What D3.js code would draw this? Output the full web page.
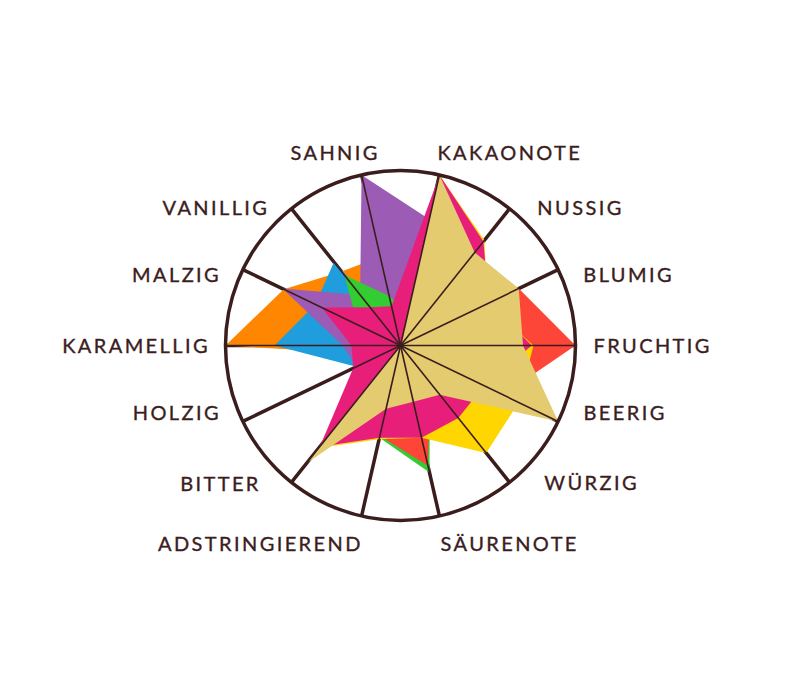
<!DOCTYPE html>
<html>
<head>
<meta charset="utf-8">
<script src="https://cdn.jsdelivr.net/npm/d3@7"></script>
<style>
  body { margin: 0; background: #fff; }
  svg { display: block; }
</style>
</head>
<body>
<div id="chart"></div>
<script>
// axes, clockwise starting just right of 12 o'clock
const axes = ['KAKAONOTE', 'NUSSIG', 'BLUMIG', 'FRUCHTIG', 'BEERIG', 'WÜRZIG', 'SÄURENOTE',
              'ADSTRINGIEREND', 'BITTER', 'HOLZIG', 'KARAMELLIG', 'MALZIG', 'VANILLIG', 'SAHNIG'];

// one profile per colour, values 0..10 in axis order
const orange = [3, 2, 2, 2, 2, 2, 2, 2, 2, 1.25, 10, 7.4, 5.4, 5.2];
const blue   = [2, 2, 2, 2, 2, 2, 2, 2, 2, 2.8, 7.2, 5.4, 6.1, 1.0];
const purple = [7.4, 4, 2, 2, 2, 2, 2, 2, 2, 2.8, 3.3, 7.5, 3.7, 10];
const green  = [2, 2, 2, 2, 2, 2.7, 7.45, 5.4, 2, 2, 2, 2.7, 5.15, 2.9];
const red    = [5, 5, 7.5, 10, 6.5, 2.7, 7.05, 5.3, 3, 2, 2, 2, 2, 2];
const yellow = [10, 7.7, 5.5, 7.6, 7.5, 7.85, 5.4, 5.5, 7.5, 2, 2, 2, 2, 2];
const pink   = [10, 7.6, 5.6, 7.5, 5.3, 5.3, 5.4, 5.4, 7.4, 3.0, 2.8, 5.0, 2.8, 2.3];
const khaki  = [10, 6.8, 7.5, 7.0, 10, 3.6, 3.3, 3.7, 8.6, 0, 0, 0, 0, 0];

const maxValue = 10;

// drawing order, bottom to top
const series = [
    { values: orange, color: '#ff8600' },
    { values: blue,   color: '#1f9ddc' },
    { values: purple, color: '#9c5cb5' },
    { values: green,  color: '#33cc33' },
    { values: red,    color: '#fd4538' },
    { values: yellow, color: '#ffd600' },
    { values: pink,   color: '#e81f7a' },
    { values: khaki,  color: '#e4cb6f' }
];

// label placement (angle nudge in degrees, distance from centre) as laid out by hand
const labelNudge  = [-2, 6.3, 4.6, 0, -5.5, -7.7, 1.4, -1.4, 7.3, 5.4, 0, -4.5, -5.5, 6];
const labelRadius = [196, 194, 196, 193, 195, 199, 202, 202, 198, 194, 193, 195, 192, 194];

const width = 800, height = 700;
const cx = 400.5, cy = 345.5, radius = 175;
const ink = '#3b1d1d';
const spacing = 2.4;

const svg = d3.select('#chart')
    .append('svg')
    .attr('width', width)
    .attr('height', height);

const g = svg.append('g').attr('transform', `translate(${cx},${cy})`);

const r = d3.scaleLinear().domain([0, maxValue]).range([0, radius]);
const angle = d3.scaleLinear().domain([0, axes.length]).range([0, 2 * Math.PI]);
const axisAngle = i => angle(i + 0.5);

// thick spokes under the shapes
g.append('g')
    .selectAll('line')
    .data(axes)
    .join('line')
    .attr('x1', 0).attr('y1', 0)
    .attr('x2', (d, i) => r(maxValue) * Math.sin(axisAngle(i)))
    .attr('y2', (d, i) => -r(maxValue) * Math.cos(axisAngle(i)))
    .attr('stroke', ink)
    .attr('stroke-width', 3.5);

// the flavour shapes
const radar = d3.lineRadial()
    .angle((d, i) => axisAngle(i))
    .radius(d => r(d))
    .curve(d3.curveLinearClosed);

g.append('g')
    .selectAll('path')
    .data(series)
    .join('path')
    .attr('d', d => radar(d.values))
    .attr('fill', d => d.color);

// thin spokes on top
g.append('g')
    .selectAll('line')
    .data(axes)
    .join('line')
    .attr('x1', 0).attr('y1', 0)
    .attr('x2', (d, i) => r(maxValue) * Math.sin(axisAngle(i)))
    .attr('y2', (d, i) => -r(maxValue) * Math.cos(axisAngle(i)))
    .attr('stroke', ink)
    .attr('stroke-width', 1.6);

// outer ring
g.append('circle')
    .attr('r', r(maxValue))
    .attr('fill', 'none')
    .attr('stroke', ink)
    .attr('stroke-width', 3.5);

// axis labels
const labelAngle = i => axisAngle(i) + labelNudge[i] * Math.PI / 180;
const onRight = i => Math.sin(axisAngle(i)) > 0;

g.append('g')
    .selectAll('text')
    .data(axes)
    .join('text')
    .attr('x', (d, i) => labelRadius[i] * Math.sin(labelAngle(i)))
    .attr('y', (d, i) => -labelRadius[i] * Math.cos(labelAngle(i)))
    .attr('dx', (d, i) => onRight(i) ? 0 : spacing)
    .attr('dy', '0.36em')
    .attr('text-anchor', (d, i) => onRight(i) ? 'start' : 'end')
    .style('font-family', 'Lato, "Open Sans", sans-serif')
    .style('font-size', '20px')
    .style('letter-spacing', spacing + 'px')
    .style('fill', ink)
    .style('stroke', ink)
    .style('stroke-width', 0.35)
    .text(d => d);
</script>
</body>
</html>
